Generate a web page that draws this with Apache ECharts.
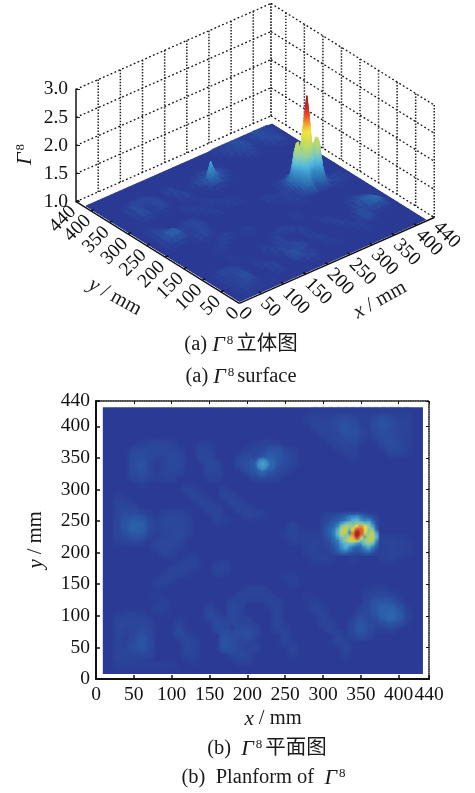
<!DOCTYPE html>
<html>
<head>
<meta charset="utf-8">
<style>html,body{margin:0;padding:0;background:#fff}#c{width:475px;height:793px}</style>
<script src="https://cdn.jsdelivr.net/npm/echarts@6/dist/echarts.min.js"></script>
</head>
<body>
<div id="c"></div>
<script>
// ---------- data ----------
var planTicks = [0, 50, 100, 150, 200, 250, 300, 350, 400, 440];
var zTicks = [1.0, 1.5, 2.0, 2.5, 3.0];
// faint field, each row: y mm, then pairs of x mm, (gamma - 1) in units of faintUnit
var faintUnit = 0.006;
var faintRows = [
[420, 290,3,300,3,310,3,320,3,330,3,340,3,350,3,360,3,370,3,380,3,390,3,400,3,410,3],
[410, 280,4,290,5,300,3,310,5,320,8,330,9,340,7,350,3,360,3,370,8,380,11,390,8,400,4,410,4],
[400, 290,5,300,6,310,6,320,9,330,12,340,10,350,4,360,3,370,9,380,12,390,9,400,5,410,5],
[390, 300,6,310,6,320,7,330,11,340,11,350,6,360,2,370,7,380,10,390,8,400,6,410,4],
[380, 310,6,320,7,330,8,340,9,350,5,370,4,380,8,390,9,400,7,410,4],
[370, 60,4,70,6,80,7,90,7,100,5,140,4,150,3,210,3,220,5,230,5,240,4,320,6,330,6,340,5,380,6,390,9,400,8,410,4],
[360, 50,6,60,8,70,8,80,7,90,7,100,7,110,4,140,7,150,5,200,4,210,5,220,7,230,12,240,14,250,7,260,4,330,4,340,4,390,6,400,7,410,3],
[350, 50,9,60,10,70,6,80,3,90,5,100,8,110,6,140,7,150,7,190,5,200,9,210,6,220,12,230,18,240,14,250,9,260,5,340,3],
[340, 50,9,60,12,70,6,90,4,100,8,110,7,150,8,160,5,190,8,200,11,210,16,220,60,230,26,240,11,250,8,260,4],
[330, 50,8,60,11,70,7,90,5,100,7,110,6,150,7,160,6,200,8,210,13,220,22,230,13,240,8,250,5],
[320, 50,6,60,8,70,6,80,3,90,5,100,5,150,4,160,5,210,6,220,8,230,6,240,4],
[310, 60,3],
[300, 120,5,130,3,170,4],
[290, 30,3,130,6,140,4,170,6,180,5],
[280, 30,5,40,4,140,6,150,4,180,6,190,5],
[270, 30,6,40,7,50,6,150,6,160,4,190,6,200,5],
[260, 30,6,40,9,50,9,60,6,70,3,90,4,100,6,110,6,120,3,160,6,200,6,210,5,220,3],
[250, 30,7,40,12,50,16,60,15,70,7,80,4,90,7,100,8,110,7,120,4,160,4,170,3],
[240, 30,7,40,14,50,20,60,18,70,8,80,4,90,6,100,7,110,8,120,5,260,6],
[230, 30,6,40,10,50,14,60,13,70,6,90,5,100,7,110,8,120,5,250,3,260,6,270,3,280,3,290,3],
[220, 30,4,40,6,50,7,60,6,80,4,90,7,100,7,110,6,260,4,270,3,280,4,290,4,380,5,390,5,400,4,410,3],
[210, 80,5,90,8,100,7,110,4,280,4,290,5,380,4,390,5,400,4,410,4],
[200, 90,6,100,5,280,4,290,5,380,5,390,6,400,5,410,3],
[190, 120,3,130,5,290,4,300,5,310,3,340,3,380,4,390,5],
[180, 110,4,120,5,130,5,160,4,170,5],
[170, 100,6,110,6,120,4,160,5,170,4],
[160, 90,6,100,5,250,3,260,4],
[150, 80,4,90,3,260,4],
[140, 200,5,210,6,220,5,360,3,370,4,380,4],
[130, 80,3,190,5,200,5,210,5,220,5,230,6,280,3,360,5,370,8,380,8,390,7,400,3],
[120, 90,4,180,6,190,5,230,5,240,6,290,5,360,7,370,12,380,14,390,12,400,6],
[110, 80,4,90,3,150,6,180,8,190,5,240,6,290,6,300,4,350,5,360,8,370,14,380,20,390,20,400,12,410,4],
[100, 30,3,40,5,50,5,60,5,150,8,160,5,180,8,190,4,240,6,300,6,350,8,360,8,370,10,380,18,390,24,400,16,410,6],
[90, 30,6,40,7,50,6,60,7,70,4,110,4,160,8,170,6,180,7,190,6,200,6,240,6,300,6,310,3,340,6,350,12,360,8,370,6,380,10,390,13,400,10,410,3],
[80, 30,7,40,5,50,6,60,8,70,6,110,6,160,8,170,8,190,8,200,8,210,6,240,6,250,4,310,6,340,8,350,14,360,9,370,4,380,4,390,5],
[70, 30,6,40,3,50,6,60,10,70,7,110,8,120,4,170,10,180,9,190,9,200,10,210,6,250,5,320,6,340,7,350,10,360,6],
[60, 30,5,40,3,50,8,60,13,70,8,120,7,130,4,170,13,180,10,190,6,200,6,250,6,320,6,330,4],
[50, 30,5,40,4,50,9,60,12,70,8,120,7,130,5,170,12,180,10,190,6,210,6,260,5,330,6],
[40, 30,6,40,6,50,7,60,7,70,6,120,6,130,4,180,7,190,8,200,7,260,4,330,4],
[30, 30,5,40,5,50,4,60,4,130,3,190,5,200,5],
[20, 30,3,40,3,50,3,60,3,70,3,80,3,90,3,100,3]
];
// strong peak, 5 mm spacing
var peakX = [300,305,310,315,320,325,330,335,340,345,350,355,360,365,370];
var peakY = [260,255,250,245,240,235,230,225,220,215,210,205,200];
var peakZ = [
[1.02,1.03,1.03,1.04,1.05,1.06,1.08,1.08,1.08,1.10,1.08,1.05,1.04,1.03,1.02],
[1.03,1.04,1.05,1.06,1.08,1.10,1.15,1.25,1.30,1.32,1.22,1.12,1.10,1.06,1.03],
[1.03,1.05,1.06,1.08,1.10,1.14,1.20,1.30,1.42,1.44,1.32,1.25,1.28,1.14,1.05],
[1.03,1.06,1.08,1.12,1.18,1.35,1.48,1.55,1.48,1.60,1.62,1.48,1.48,1.25,1.06],
[1.04,1.07,1.10,1.15,1.28,1.58,1.72,1.60,1.66,1.95,2.10,1.95,1.62,1.38,1.10],
[1.04,1.08,1.12,1.20,1.42,1.72,1.76,1.30,1.88,2.25,2.20,1.88,1.55,1.58,1.14],
[1.04,1.08,1.12,1.22,1.44,1.70,1.62,1.18,2.10,2.55,2.20,1.72,1.60,1.74,1.36],
[1.03,1.07,1.10,1.18,1.35,1.52,1.55,1.62,2.02,2.28,1.82,1.22,1.64,1.76,1.44],
[1.03,1.05,1.08,1.15,1.22,1.42,1.56,1.80,1.85,1.72,1.50,1.55,1.72,1.70,1.30],
[1.02,1.04,1.06,1.10,1.18,1.35,1.44,1.48,1.40,1.30,1.30,1.50,1.58,1.46,1.18],
[1.02,1.03,1.05,1.08,1.15,1.30,1.42,1.30,1.16,1.12,1.15,1.30,1.40,1.25,1.10],
[1.02,1.03,1.04,1.06,1.12,1.22,1.28,1.18,1.10,1.08,1.10,1.18,1.24,1.14,1.06],
[1.01,1.02,1.03,1.05,1.08,1.12,1.12,1.08,1.06,1.05,1.06,1.08,1.10,1.06,1.03]
];
// colour scale: gamma value -> colour
var colorZ = [1.0, 1.05, 1.1, 1.2, 1.3, 1.42, 1.55, 1.75, 1.95, 2.1, 2.3, 2.55];
var colorC = ['#2b3a94','#2b4a9e','#2a5ea9','#2f7ab8','#3a94cc','#56bcdc','#8fcfa8','#c8dc55','#f8e53a','#f3922b','#dc2528','#a51c20'];

// ---------- helpers ----------
var SERIF = '"Liberation Serif","Noto Sans CJK SC",serif';
function colorOf(z){
  if (z <= colorZ[0]) return colorC[0];
  for (var i = 1; i < colorZ.length; i++) {
    if (z <= colorZ[i]) return echarts.color.lerp((z - colorZ[i-1]) / (colorZ[i] - colorZ[i-1]), [colorC[i-1], colorC[i]]);
  }
  return colorC[colorC.length - 1];
}
var field = {};
faintRows.forEach(function(r){ for (var k = 1; k < r.length; k += 2) field[r[k] + '_' + r[0]] = 1 + r[k+1] * faintUnit; });
function gridZ(x, y){
  var px = peakX.indexOf(x), py = peakY.indexOf(y);
  if (px >= 0 && py >= 0) return peakZ[py][px];
  return field[x + '_' + y] || 1;
}
// oblique view used by the top panel: hidden cartesian axes carry the projection
var EX = [0.443, 0.195], EY = [0.371, 0.231], EZ = 56.2;
function proj(x, y, z){ return [x * EX[0] - y * EY[0], x * EX[1] + y * EY[1] + (z - 1) * EZ]; }

// wall gridlines
var wallV = [], wallH = [];
planTicks.slice(1).forEach(function(t){ wallV.push([t,440,1,t,440,3]); wallV.push([440,t,1,440,t,3]); });
wallV.push([440,0,1,440,0,3]);
zTicks.forEach(function(z){ wallH.push([0,440,z,440,440,z]); wallH.push([440,440,z,440,0,z]); });

// surface cells
var nodesX = [4], nodesY = [4], n;
for (n = 10; n <= 420; n += 10) { nodesX.push(n); nodesY.push(n); }
nodesX.push(424);
nodesY[nodesY.length-1] = 418;
function nodeKey(v){ return v === 4 ? 10 : (v === 424 ? 420 : (v === 418 ? 420 : v)); }
var surfCells = [];
for (var a = 0; a < nodesX.length - 1; a++) for (var b = 0; b < nodesY.length - 1; b++) {
  var x0 = nodesX[a], x1 = nodesX[a+1], y0 = nodesY[b], y1 = nodesY[b+1];
  if (x0 >= 300 && x1 <= 370 && y0 >= 200 && y1 <= 260) continue;
  surfCells.push([x0,y0,gridZ(nodeKey(x0),nodeKey(y0)), x1,y0,gridZ(nodeKey(x1),nodeKey(y0)), x1,y1,gridZ(nodeKey(x1),nodeKey(y1)), x0,y1,gridZ(nodeKey(x0),nodeKey(y1))]);
}
for (var p = 0; p < peakX.length - 1; p++) for (var q = 0; q < peakY.length - 1; q++) {
  surfCells.push([peakX[p],peakY[q+1],peakZ[q+1][p], peakX[p+1],peakY[q+1],peakZ[q+1][p+1], peakX[p+1],peakY[q],peakZ[q][p+1], peakX[p],peakY[q],peakZ[q][p]]);
}
surfCells.sort(function(A,B){ return (B[0]+B[1]) - (A[0]+A[1]); });
var floorCorners = [[4,4],[424,4],[424,418],[4,418]];

// plan cells
var planCells = [];
Object.keys(field).forEach(function(k){
  var s = k.split('_'), x = +s[0], y = +s[1];
  if (x >= 300 && x <= 370 && y >= 200 && y <= 260) return;
  planCells.push([x, y, field[k], 10]);
});
peakX.forEach(function(x,i){ peakY.forEach(function(y,j){ planCells.push([x, y, peakZ[j][i], 5]); }); });
planCells.sort(function(A,B){ return A[2]-B[2]; });

var axisSegs = [[0,0,1,440,0,1],[0,0,1,0,440,1]];
planTicks.slice(1).forEach(function(t){
  axisSegs.push([t,0,1,t,7,1]);
  axisSegs.push([0,t,1,7,t,1]);
});

var chart = echarts.init(document.getElementById('c'), null, {renderer:'canvas'});
function segRender(list, style){
  return function(params, api){
    var s = list[params.dataIndex];
    var A = api.coord(proj(s[0],s[1],s[2])), B = api.coord(proj(s[3],s[4],s[5]));
    return {type:'line', shape:{x1:A[0],y1:A[1],x2:B[0],y2:B[1]}, style:style};
  };
}
function segData(list){ return list.map(function(s){ return proj(s[0],s[1],s[2]); }); }

function text3d(value, align, rot, dx, dy){
  return function(params, api){
    var t = planTicks[params.dataIndex];
    var c = api.coord(value(t));
    return {type:'text', x:c[0]+dx, y:c[1]+dy, rotation:rot,
      style:{text:String(t), x:0, y:0, align:align, verticalAlign:'middle', fill:'#111', font:'19.5px '+SERIF}};
  };
}
function cap(x, y, rich, rot){
  return {type:'text', x:x, y:y, rotation:rot||0, silent:true, style:{
    x:0,y:0,align:'center',verticalAlign:'middle',text:rich,fill:'#1a1a1a',
    font:'20.5px '+SERIF,
    rich:{
      g:{fontFamily:SERIF,fontStyle:'italic',fontSize:22,fill:'#1a1a1a'},
      i:{fontFamily:SERIF,fontStyle:'italic',fontSize:21,fill:'#1a1a1a'},
      r:{fontFamily:SERIF,fontSize:20.5,fill:'#1a1a1a'},
      s:{fontFamily:SERIF,fontSize:13,fill:'#1a1a1a',verticalAlign:'top',padding:[0,3,0,2]}
    }
  }};
}
var labelStyle = {color:'#111', fontFamily:SERIF, fontSize:19.5};

chart.setOption({
  animation:false,
  backgroundColor:'#fff',
  grid:[
    {left:76, top:3.3, width:358.3, height:300, show:false},
    {left:76, top:89.3, width:1, height:112.4, show:false},
    {left:96, top:401, width:333, height:278, show:false}
  ],
  xAxis:[
    {gridIndex:0, type:'value', min:-163.3, max:195, show:false},
    {gridIndex:1, type:'value', min:0, max:1, show:false},
    {gridIndex:2, type:'value', min:0, max:440, interval:50, position:'bottom',
     axisLine:{onZero:false, lineStyle:{color:'#111',width:2}}, axisTick:{inside:true,length:4,lineStyle:{color:'#111',width:1.5}},
     axisLabel:Object.assign({margin:6, showMinLabel:true, showMaxLabel:true, hideOverlap:false}, labelStyle), splitLine:{show:false}},
    {gridIndex:2, type:'value', min:0, max:440, interval:50, position:'top',
     axisLine:{onZero:false, lineStyle:{color:'#111',width:1.5,type:[1.2,1.2]}}, axisTick:{inside:true,length:3,lineStyle:{color:'#111',width:1}},
     axisLabel:{show:false}, splitLine:{show:false}}
  ],
  yAxis:[
    {gridIndex:0, type:'value', min:0, max:300, show:false},
    {gridIndex:1, type:'value', min:1, max:3, interval:0.5, position:'left',
     axisLine:{onZero:false, lineStyle:{color:'#222',width:1.6}}, axisTick:{inside:true,length:4,lineStyle:{color:'#222',width:1}},
     axisLabel:Object.assign({margin:8, formatter:function(v){return v.toFixed(1);}}, labelStyle), splitLine:{show:false}},
    {gridIndex:2, type:'value', min:0, max:440, interval:50, position:'left',
     axisLine:{onZero:false, lineStyle:{color:'#111',width:2}}, axisTick:{inside:true,length:4,lineStyle:{color:'#111',width:1.5}},
     axisLabel:Object.assign({margin:6, showMinLabel:true, showMaxLabel:true, hideOverlap:false}, labelStyle), splitLine:{show:false}},
    {gridIndex:2, type:'value', min:0, max:440, interval:50, position:'right',
     axisLine:{onZero:false, lineStyle:{color:'#111',width:1.5,type:[1.2,1.2]}}, axisTick:{inside:true,length:3,lineStyle:{color:'#111',width:1}},
     axisLabel:{show:false}, splitLine:{show:false}}
  ],
  series:[
    // back walls
    {type:'custom', xAxisIndex:0, yAxisIndex:0, silent:true, clip:false, z:1, data:segData(wallH),
     renderItem:segRender(wallH,{stroke:'#111',lineWidth:1.3,lineDash:[1.8,2.4]})},
    {type:'custom', xAxisIndex:0, yAxisIndex:0, silent:true, clip:false, z:1, data:segData(wallV),
     renderItem:segRender(wallV,{stroke:'#222',lineWidth:1.5,lineDash:[1.4,1.6]})},
    // floor under the surface
    {type:'custom', xAxisIndex:0, yAxisIndex:0, silent:true, clip:false, z:1, data:[proj(4,4,1)],
     renderItem:function(params, api){
       return {type:'polygon', shape:{points:floorCorners.map(function(c){return api.coord(proj(c[0],c[1],1));})}, style:{fill:colorC[0]}};
     }},
    // surface cells, back to front
    {type:'custom', xAxisIndex:0, yAxisIndex:0, silent:true, clip:false, z:2, progressive:0, data:surfCells.map(function(c){return proj(c[0],c[1],c[2]);}),
     renderItem:function(params, api){
       var c = surfCells[params.dataIndex];
       var pts = [api.coord(proj(c[0],c[1],c[2])), api.coord(proj(c[3],c[4],c[5])), api.coord(proj(c[6],c[7],c[8])), api.coord(proj(c[9],c[10],c[11]))];
       var zs = [c[2],c[5],c[8],c[11]];
       var lo = Math.min.apply(null,zs), hi = Math.max.apply(null,zs);
       var fill;
       if (hi - lo > 0.06) {
         var st = [], m = 5;
         for (var i = 0; i <= m; i++) st.push({offset:i/m, color:colorOf(hi - (hi-lo)*i/m)});
         fill = new echarts.graphic.LinearGradient(0,0,0,1,st);
       } else fill = colorOf((zs[0]+zs[1]+zs[2]+zs[3])/4);
       return {type:'polygon', shape:{points:pts}, style:{fill:fill, stroke:fill, lineWidth:0.8}};
     }},
    // 3d axis edges and ticks
    {type:'custom', xAxisIndex:0, yAxisIndex:0, silent:true, clip:false, z:3, data:segData(axisSegs),
     renderItem:segRender(axisSegs,{stroke:'#111',lineWidth:1.4})},
    // 3d tick labels
    {type:'custom', xAxisIndex:0, yAxisIndex:0, silent:true, clip:false, z:4, data:planTicks.map(function(t){return proj(t,0,1);}),
     renderItem:text3d(function(t){return proj(t,0,1);}, 'left', -Math.PI/4, 2, 7)},
    {type:'custom', xAxisIndex:0, yAxisIndex:0, silent:true, clip:false, z:4, data:planTicks.map(function(t){return proj(0,t,1);}),
     renderItem:text3d(function(t){return proj(0,t,1);}, 'right', Math.PI/4, -3, 7)},
    // plan field extent
    {type:'custom', xAxisIndex:2, yAxisIndex:2, silent:true, clip:false, z:1, data:[[9,8,432,430]],
     renderItem:function(params, api){
       var A = api.coord([api.value(0),api.value(3)]), B = api.coord([api.value(2),api.value(1)]);
       return {type:'rect', shape:{x:A[0],y:A[1],width:B[0]-A[0],height:B[1]-A[1]}, style:{fill:colorC[0]}};
     }},
    // plan field cells, soft round spots
    {type:'custom', xAxisIndex:2, yAxisIndex:2, silent:true, clip:false, z:2, progressive:0, data:planCells,
     renderItem:function(params, api){
       var x = api.value(0), y = api.value(1), z = api.value(2), d = api.value(3);
       var A = api.coord([x,y]), E = api.coord([x+d,y]);
       var col = colorOf(z), R = (E[0]-A[0]) * 1.05;
       return {type:'circle', shape:{cx:A[0],cy:A[1],r:R},
         style:{fill:new echarts.graphic.RadialGradient(0.5,0.5,0.5,[
           {offset:0,color:echarts.color.modifyAlpha(col,0.95)},
           {offset:0.55,color:echarts.color.modifyAlpha(col,0.6)},
           {offset:1,color:echarts.color.modifyAlpha(col,0)}])}};
     }}
  ],
  graphic:{elements:[
    cap(25,153,'{g|Γ}{s|8}',Math.PI/2),
    cap(380,300,'{i|x}{r| / mm}',Math.PI/6.2),
    cap(115,297,'{i|y}{r| / mm}',-Math.PI/6.2),
    cap(241,345,'{r|(a) }{g|Γ}{s|8}{r|立体图}'),
    cap(241,377,'{r|(a) }{g|Γ}{s|8}{r|surface}'),
    cap(36,540,'{i|y}{r| / mm}',Math.PI/2),
    cap(273,719,'{i|x}{r| / mm}'),
    cap(267,749,'{r|(b)  }{g|Γ}{s|8}{r|平面图}'),
    cap(265,778,'{r|(b)  Planform of  }{g|Γ}{s|8}')
  ]}
});
</script>
</body>
</html>
